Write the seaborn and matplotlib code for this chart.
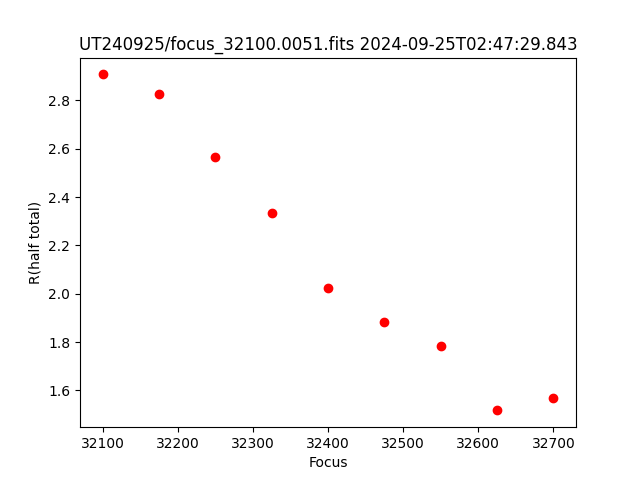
import matplotlib
matplotlib.use("Agg")
import matplotlib.pyplot as plt
import seaborn as sns
import pandas as pd

focus = [32100, 32175, 32250, 32325, 32400, 32475, 32550, 32625, 32700]
r_half = [2.908, 2.825, 2.568, 2.333, 2.022, 1.881, 1.782, 1.517, 1.567]
title = "UT240925/focus_32100.0051.fits 2024-09-25T02:47:29.843"

df = pd.DataFrame({"Focus": focus, "R(half total)": r_half})

fig, ax = plt.subplots(figsize=(6.4, 4.8), dpi=100)
sns.scatterplot(data=df, x="Focus", y="R(half total)", color="red", s=36,
                edgecolor="red", linewidth=1, ax=ax, zorder=3)
ax.set_title(title)
ax.set_xlabel("Focus")
ax.set_ylabel("R(half total)")
fig.savefig("out.png", dpi=100)
